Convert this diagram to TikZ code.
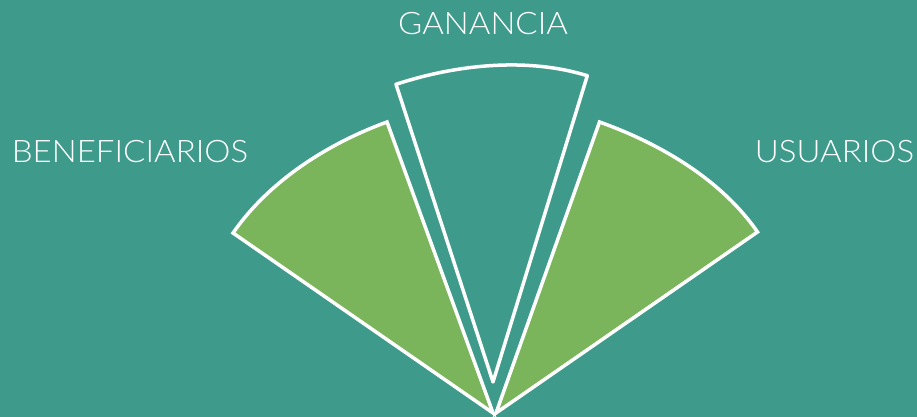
\documentclass[tikz,border=0pt]{standalone}
\usepackage{fontspec}
\setmainfont{Lato Light}
\definecolor{bgteal}{RGB}{62,154,138}
\definecolor{leafgreen}{RGB}{123,181,91}
\begin{document}
\begin{tikzpicture}[x=1pt,y=1pt,
  sector/.style={draw=white, line width=3.5pt, line join=miter},
  lbl/.style={text=white, font=\fontsize{31}{31}\selectfont, anchor=base, inner sep=0pt, xscale=1.065}]
\fill[bgteal] (0,0) rectangle (917,417);
\useasboundingbox (0,0) rectangle (917,417);
% left sector
\coordinate (L0) at (493,4);
\coordinate (A) at (233,184);
\coordinate (B) at (387,295);
% right sector
\coordinate (R0) at (496,4);
\coordinate (C) at (599.5,295);
\coordinate (D) at (757.5,185);
% middle sector
\coordinate (M0) at (493,35);
\coordinate (P1) at (396,332.7);
\coordinate (P2) at (587.3,341.3);
\draw[sector, fill=leafgreen] (L0) -- (A) to[out=55.3, in=200, looseness=0.85] (B) -- cycle;
\draw[sector, fill=leafgreen] (R0) -- (C) to[out=-19.6, in=124.7, looseness=0.85] (D) -- cycle;
\draw[sector, line join=round] (M0) -- (P1) to[out=18.05, in=162.9, looseness=0.85] (P2) -- cycle;
\node[lbl] (ganancia) at (483,382) {GANANCIA};
\node[lbl] (benef) at (130,254.3) {BENEFICIARIOS};
\node[lbl] (usuarios) at (834.5,254.3) {USUARIOS};
\end{tikzpicture}
\end{document}
